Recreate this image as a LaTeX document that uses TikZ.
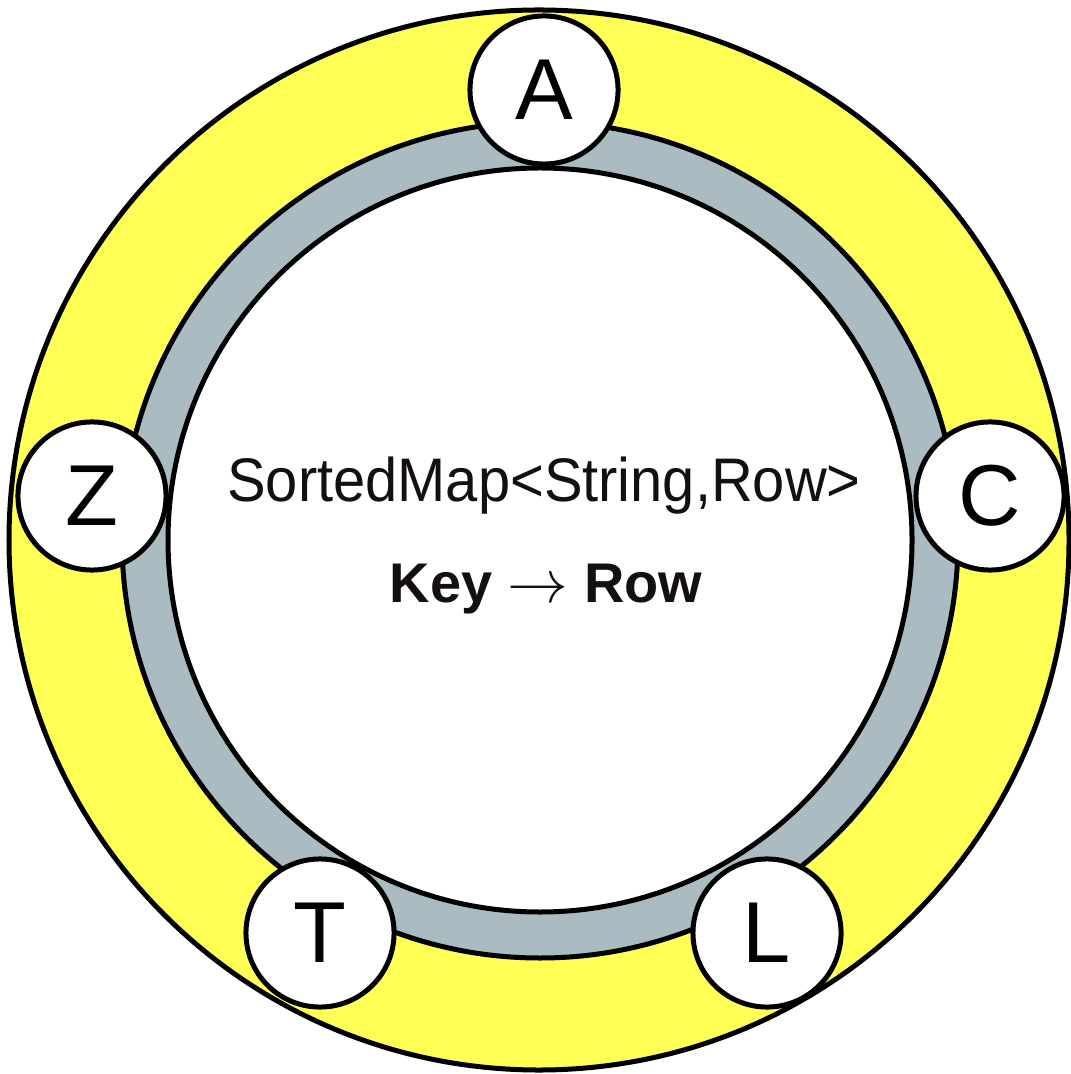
\documentclass[tikz,border=0pt]{standalone}
\usepackage{graphicx}
\usepackage{fontspec}
\setmainfont{Liberation Sans}
\definecolor{ringyellow}{RGB}{255,255,85}
\definecolor{ringgray}{RGB}{170,187,194}
\definecolor{inktext}{RGB}{20,16,17}
\begin{document}
\begin{tikzpicture}[x=0.01cm,y=-0.01cm,
  outline/.style={draw=black,line width=0.05cm},
  member/.style={circle,outline,fill=white,minimum size=1.48cm,inner sep=0pt,
    font=\fontsize{24.6pt}{26pt}\selectfont},
  caption/.style={anchor=base,inner sep=0pt,text=inktext}]
  \useasboundingbox (0,0) rectangle (1071,1074);
  % outer yellow band, grey ring and white core
  \fill[ringyellow] (539,540) circle[radius=530];
  \draw[outline] (539,540) circle[radius=530];
  \filldraw[outline,fill=ringgray] (540,540) circle[radius=418];
  \filldraw[outline,fill=white] (540,540) circle[radius=372];
  % keys placed around the ring
  \node[member] (A) at (544,90) {A};
  \node[member] (C) at (990,496) {C};
  \node[member] (Z) at (92,496) {Z};
  \node[member] (T) at (320,933) {T};
  \node[member] (L) at (767,933) {L};
  % central labels
  \node[caption,font=\fontsize{17.5pt}{20pt}\selectfont] (map) at (544,502)
    {\scalebox{0.94}[1]{SortedMap<String,Row>}};
  \node[caption,font=\fontsize{15.9pt}{18pt}\selectfont\bfseries] (kv) at (546,603)
    {Key $\rightarrow$ Row};
\end{tikzpicture}
\end{document}
